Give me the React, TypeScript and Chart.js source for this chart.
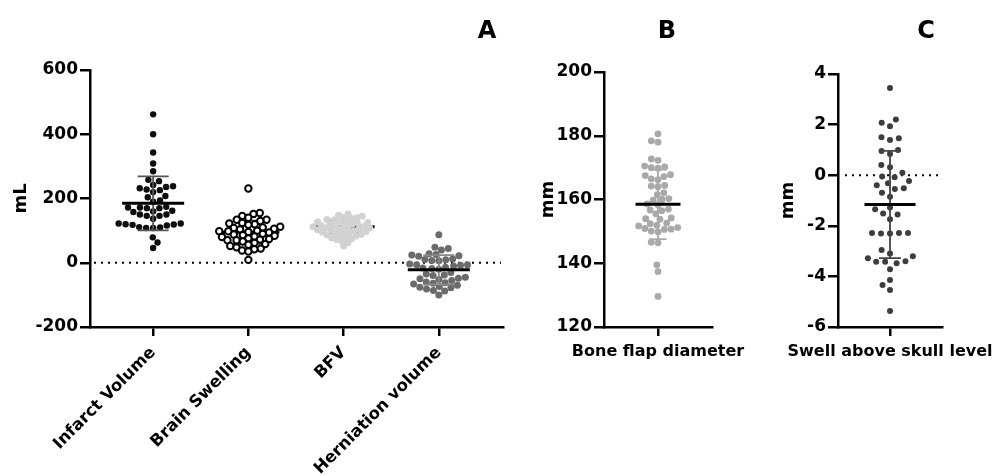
import React, { useEffect, useRef } from 'react';
import { Chart, registerables } from 'chart.js';
Chart.register(...registerables);

const FONT = "'DejaVu Sans', 'Liberation Sans', Arial, sans-serif";

// ---------- Panel A ----------
const categoriesA = ['Infarct Volume', 'Brain Swelling', 'BFV', 'Herniation volume'];
const infarctVolume = [462, 400, 343, 309, 285, 258, 254, 242, 238, 236, 232, 228, 226, 220, 208, 204, 194, 190, 174, 172, 170, 172, 170, 162, 158, 160, 150, 146, 150, 146, 137, 122, 116, 120, 118, 119, 122, 110, 108, 111, 108, 79, 63, 46];
const brainSwelling = [231, 155, 152, 146, 140, 134, 134, 130, 124, 122, 120, 118, 112, 110, 108, 106, 104, 100, 98, 98, 96, 94, 90, 88, 86, 84, 82, 80, 76, 74, 72, 70, 70, 66, 62, 58, 56, 52, 48, 44, 42, 38, 35, 9];
const bfv = [152, 148, 145, 142, 140, 138, 135, 133, 131, 129, 127, 125, 123, 121, 120, 118, 116, 115, 113, 112, 110, 109, 108, 106, 105, 103, 102, 100, 98, 97, 95, 93, 91, 89, 87, 85, 83, 80, 78, 75, 72, 68, 62, 52];
const herniationVolume = [87, 48, 44, 40, 28, 26, 24, 22, 20, 12, 10, 9, 7, 6, -4, -6, -6, -8, -10, -14, -16, -18, -20, -30, -35, -38, -40, -45, -48, -50, -52, -55, -60, -62, -64, -66, -70, -74, -76, -78, -82, -86, -88, -100];
const meansA = [185, 95, 112, -22];
const sdsA = [84, 36, 20, 46];
const yTicksA = [-200, 0, 200, 400, 600];

// ---------- Panel B ----------
const categoriesB = ['Bone flap diameter'];
const boneFlapDiameter = [180.6, 178.4, 178.0, 172.7, 172.3, 170.5, 170.2, 170.0, 169.8, 167.8, 167.5, 167.2, 166.5, 166.2, 164.4, 164.2, 164.0, 162.1, 161.5, 160.3, 160.0, 159.8, 158.6, 158.3, 157.0, 156.7, 156.5, 155.5, 154.2, 154.0, 153.8, 152.6, 152.4, 151.9, 151.7, 151.2, 150.9, 150.7, 150.6, 150.1, 149.8, 146.6, 146.4, 139.5, 137.4, 129.6];
const meansB = [158.5];
const sdsB = [10.9];
const yTicksB = [120, 140, 160, 180, 200];

// ---------- Panel C ----------
const categoriesC = ['Swell above skull level'];
const swellAboveSkull = [3.45, 2.2, 2.07, 1.93, 1.5, 1.46, 1.39, 1.0, 0.96, 0.84, 0.4, 0.31, 0.1, -0.05, -0.08, -0.23, -0.32, -0.4, -0.52, -0.55, -0.69, -0.85, -1.28, -1.35, -1.51, -1.55, -1.74, -2.28, -2.28, -2.28, -2.3, -2.3, -2.96, -3.09, -3.2, -3.28, -3.4, -3.42, -3.42, -3.48, -3.72, -4.14, -4.34, -4.54, -5.37];
const meansC = [-1.16];
const sdsC = [2.12];
const yTicksC = [-6, -4, -2, 0, 2, 4];

interface GroupCfg {
  label: string; values: number[]; mean: number; sd: number;
  fill: string; border: string; borderWidth: number; radius: number;
  spacing: number; sdColor: string; barsOnTop: boolean;
}
interface PanelCfg {
  left: number; width: number; top: number; right: number; yWidth: number; xHeight: number;
  yTitle: string; yTitlePad: number; yTicks: number[]; xMin: number; xMax: number;
  rot: number; xFontSize: number; xPad: number; groups: GroupCfg[];
  zeroLine: boolean; zeroStart: number; meanHalf: number; capHalf: number;
}

function swarm(ys: number[], d: number): number[] {
  const idx = ys.map((_, i) => i).sort((a, b) => ys[b] - ys[a]);
  const placed: { x: number; y: number }[] = [];
  const out = new Array(ys.length).fill(0);
  let flip = 1;
  for (const i of idx) {
    const y = ys[i];
    const near = placed.filter(p => Math.abs(p.y - y) < d);
    const cands = [0];
    for (const p of near) {
      const dx = Math.sqrt(d * d - (p.y - y) ** 2);
      cands.push(p.x + dx, p.x - dx);
    }
    cands.sort((a, b) => (Math.abs(a) - Math.abs(b)) || flip * (a - b));
    let best = 0;
    for (const c of cands) {
      if (near.every(p => (p.x - c) ** 2 + (p.y - y) ** 2 >= d * d - 0.01)) { best = c; break; }
    }
    flip = -flip;
    placed.push({ x: best, y });
    out[i] = best;
  }
  return out;
}

function drawStats(chart: any, cfg: PanelCfg, onTop: boolean) {
  const { ctx, chartArea, scales } = chart;
  const x = scales.x, y = scales.y;
  ctx.save();
  if (!onTop && cfg.zeroLine) {
    const py = y.getPixelForValue(0);
    ctx.setLineDash([2, 5]);
    ctx.lineWidth = 2;
    ctx.strokeStyle = '#000';
    ctx.beginPath();
    ctx.moveTo(chartArea.left + cfg.zeroStart, py);
    ctx.lineTo(chartArea.right - 2, py);
    ctx.stroke();
    ctx.setLineDash([]);
  }
  cfg.groups.forEach((g, i) => {
    if (g.barsOnTop !== onTop) return;
    const cx = x.getPixelForValue(i);
    const pm = y.getPixelForValue(g.mean);
    const pt = y.getPixelForValue(g.mean + g.sd);
    const pb = y.getPixelForValue(g.mean - g.sd);
    ctx.strokeStyle = g.sdColor;
    ctx.lineWidth = 1.8;
    ctx.beginPath();
    ctx.moveTo(cx, pt); ctx.lineTo(cx, pb);
    ctx.moveTo(cx - cfg.capHalf, pt); ctx.lineTo(cx + cfg.capHalf, pt);
    ctx.moveTo(cx - cfg.capHalf, pb); ctx.lineTo(cx + cfg.capHalf, pb);
    ctx.stroke();
    ctx.strokeStyle = '#000';
    ctx.lineWidth = 3;
    ctx.beginPath();
    ctx.moveTo(cx - cfg.meanHalf, pm); ctx.lineTo(cx + cfg.meanHalf, pm);
    ctx.stroke();
  });
  ctx.restore();
}

function Panel({ cfg }: { cfg: PanelCfg }) {
  const ref = useRef<HTMLCanvasElement>(null);
  useEffect(() => {
    const canvas = ref.current!;
    const plugin = {
      id: 'stats',
      beforeDatasetsDraw(chart: any) { drawStats(chart, cfg, false); },
      afterDatasetsDraw(chart: any) { drawStats(chart, cfg, true); },
    };
    const tickFont = { family: FONT, size: 17, weight: 'bold' as const };
    const chart = new Chart(canvas, {
      type: 'scatter',
      data: {
        datasets: cfg.groups.map((g, i) => ({
          label: g.label,
          data: g.values.map(v => ({ x: i, y: v })),
          pointRadius: g.radius,
          pointBackgroundColor: g.fill,
          pointBorderColor: g.border,
          pointBorderWidth: g.borderWidth,
          showLine: false,
          clip: false as any,
        })),
      },
      options: {
        responsive: false,
        animation: false,
        events: [],
        layout: { padding: { top: cfg.top, left: 0, right: cfg.right, bottom: 0 } },
        plugins: { legend: { display: false }, tooltip: { enabled: false } },
        scales: {
          x: {
            type: 'linear',
            min: cfg.xMin,
            max: cfg.xMax,
            afterBuildTicks: (s: any) => { s.ticks = cfg.groups.map((_, i) => ({ value: i })); },
            afterFit: (s: any) => { s.height = cfg.xHeight; s.paddingLeft = 0; s.paddingRight = 0; },
            ticks: {
              autoSkip: false,
              minRotation: cfg.rot,
              maxRotation: cfg.rot,
              padding: cfg.xPad,
              color: '#000',
              font: { family: FONT, size: cfg.xFontSize, weight: 'bold' },
              callback: (v: any) => cfg.groups[Math.round(Number(v))]?.label ?? '',
            },
            grid: { display: true, drawOnChartArea: false, drawTicks: true, tickLength: 9, color: '#000', lineWidth: 2.5 },
            border: { display: true, color: '#000', width: 2.5 },
          },
          y: {
            type: 'linear',
            min: cfg.yTicks[0],
            max: cfg.yTicks[cfg.yTicks.length - 1],
            afterBuildTicks: (s: any) => { s.ticks = cfg.yTicks.map(v => ({ value: v })); },
            afterFit: (s: any) => { s.width = cfg.yWidth; },
            ticks: { padding: 2, color: '#000', font: tickFont },
            grid: { display: true, drawOnChartArea: false, drawTicks: true, tickLength: 10, color: '#000', lineWidth: 2.5 },
            border: { display: true, color: '#000', width: 2.5 },
            title: {
              display: true, text: cfg.yTitle, color: '#000',
              font: { family: FONT, size: 18, weight: 'bold' },
              padding: { top: cfg.yTitlePad, bottom: 0 },
            },
          },
        },
      },
      plugins: [plugin],
    } as any);

    const xs = chart.scales.x;
    const ysc = chart.scales.y;
    const pxPerUnit = Math.abs(xs.getPixelForValue(1) - xs.getPixelForValue(0));
    cfg.groups.forEach((g, gi) => {
      const pys = g.values.map(v => ysc.getPixelForValue(v));
      const offs = swarm(pys, g.spacing);
      (chart.data.datasets[gi] as any).data = g.values.map((v, i) => ({ x: gi + offs[i] / pxPerUnit, y: v }));
    });
    chart.update();
    return () => chart.destroy();
  }, [cfg]);
  return (
    <canvas
      ref={ref}
      width={cfg.width}
      height={476}
      style={{ position: 'absolute', left: cfg.left, top: 0, width: cfg.width, height: 476 }}
    />
  );
}

const valuesA = [infarctVolume, brainSwelling, bfv, herniationVolume];
const styleA = [
  { fill: '#0d0d0d', border: '#0d0d0d', borderWidth: 0, radius: 3.2, spacing: 7, sdColor: '#555', barsOnTop: true },
  { fill: '#ffffff', border: '#000000', borderWidth: 2, radius: 3.2, spacing: 6.4, sdColor: '#555', barsOnTop: false },
  { fill: '#d2d2d2', border: '#d2d2d2', borderWidth: 0, radius: 3.5, spacing: 5.4, sdColor: '#888', barsOnTop: false },
  { fill: '#6b6b6b', border: '#6b6b6b', borderWidth: 0, radius: 3.5, spacing: 7, sdColor: '#888', barsOnTop: true },
];

const cfgA: PanelCfg = {
  left: 0, width: 520, top: 70, right: 17, yWidth: 90, xHeight: 149,
  yTitle: 'mL', yTitlePad: 11, yTicks: yTicksA, xMin: -0.663, xMax: 3.674,
  rot: 45, xFontSize: 16.5, xPad: 7,
  groups: categoriesA.map((label, i) => ({ label, values: valuesA[i], mean: meansA[i], sd: sdsA[i], ...styleA[i] })),
  zeroLine: true, zeroStart: 4, meanHalf: 31, capHalf: 15.5,
};

const cfgB: PanelCfg = {
  left: 520, width: 250, top: 72, right: 58, yWidth: 84, xHeight: 149,
  yTitle: 'mm', yTitlePad: 18, yTicks: yTicksB, xMin: -1, xMax: 1,
  rot: 0, xFontSize: 16, xPad: 6,
  groups: categoriesB.map((label, i) => ({
    label, values: boneFlapDiameter, mean: meansB[i], sd: sdsB[i],
    fill: '#a9a9a9', border: '#a9a9a9', borderWidth: 0, radius: 3.4, spacing: 6.8, sdColor: '#a9a9a9', barsOnTop: true,
  })),
  zeroLine: false, zeroStart: 0, meanHalf: 22.5, capHalf: 8.5,
};

const cfgC: PanelCfg = {
  left: 770, width: 227, top: 74, right: 55, yWidth: 68, xHeight: 149,
  yTitle: 'mm', yTitlePad: 8, yTicks: yTicksC, xMin: -1, xMax: 1,
  rot: 0, xFontSize: 16, xPad: 6,
  groups: categoriesC.map((label, i) => ({
    label, values: swellAboveSkull, mean: meansC[i], sd: sdsC[i],
    fill: '#3d3d3d', border: '#3d3d3d', borderWidth: 0, radius: 3, spacing: 9, sdColor: '#444', barsOnTop: true,
  })),
  zeroLine: true, zeroStart: 7, meanHalf: 25.5, capHalf: 11,
};

const letterStyle = (cx: number): React.CSSProperties => ({
  position: 'absolute', left: cx - 20, top: 14, width: 40, textAlign: 'center',
  fontFamily: FONT, fontWeight: 'bold', fontSize: 24, lineHeight: '32px', color: '#000',
});

export default function App() {
  return (
    <div style={{ position: 'absolute', left: 0, top: 0, width: 997, height: 476, background: '#fff', overflow: 'hidden' }}>
      <Panel cfg={cfgA} />
      <Panel cfg={cfgB} />
      <Panel cfg={cfgC} />
      <div style={letterStyle(487)}>A</div>
      <div style={letterStyle(667)}>B</div>
      <div style={letterStyle(926)}>C</div>
    </div>
  );
}
